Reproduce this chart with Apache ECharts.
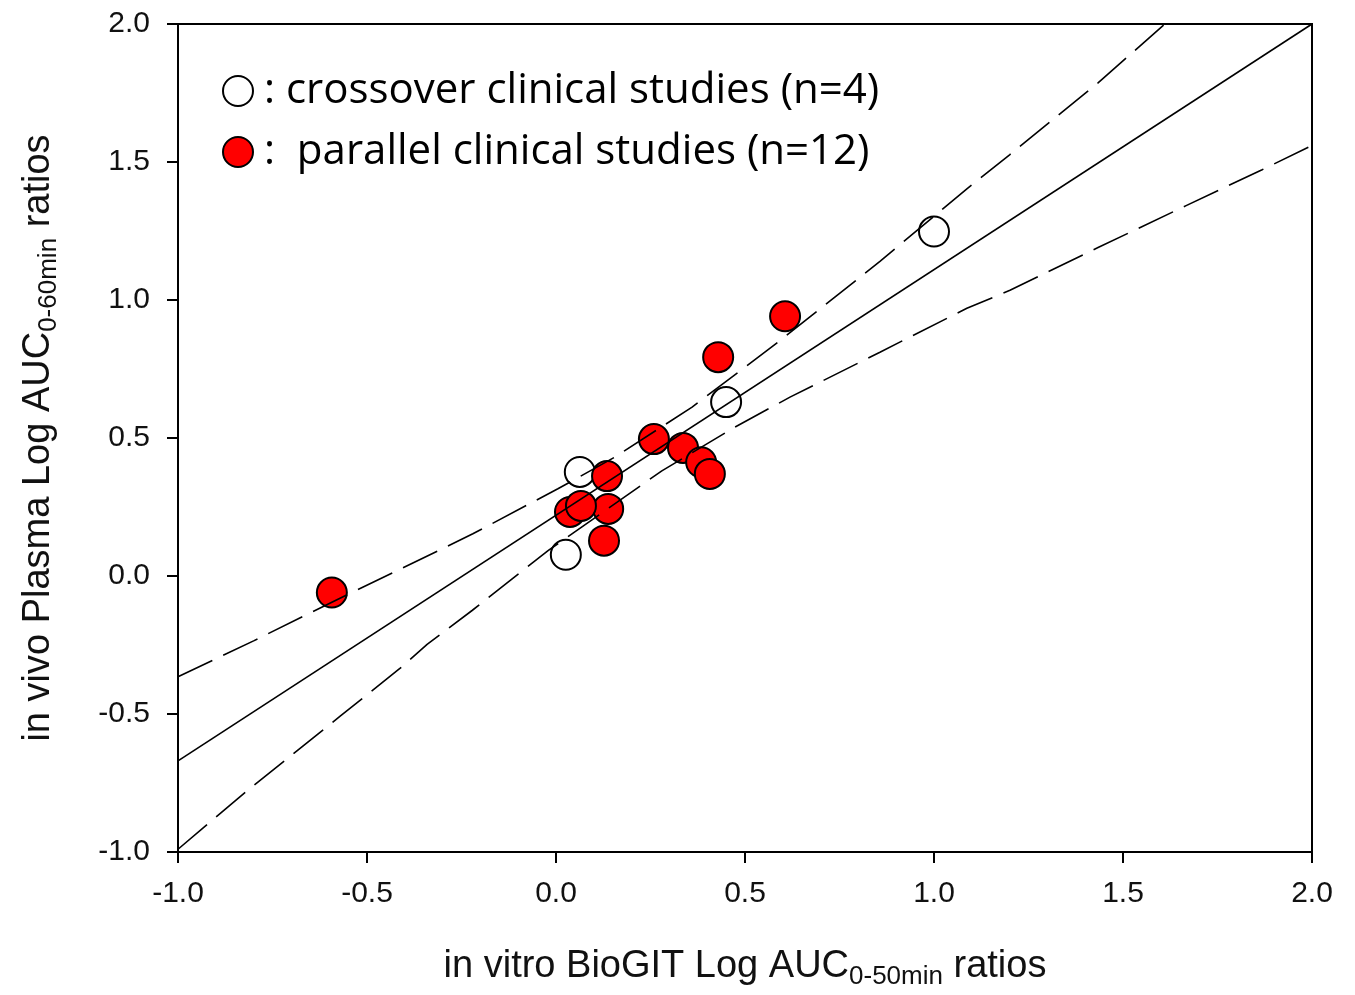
<!DOCTYPE html>
<html>
<head>
<meta charset="utf-8">
<title>BioGIT vs plasma AUC ratios</title>
<script src="https://cdn.jsdelivr.net/npm/echarts@6/dist/echarts.min.js"></script>
<style>
  html, body { margin: 0; padding: 0; background: #fff; }
  #chart { width: 1355px; height: 995px; }
</style>
</head>
<body>
<div id="chart"></div>
<script>
// values
const crossoverX = [1.0, 0.45, 0.063, 0.026];
const crossoverY = [1.248, 0.63, 0.377, 0.077];

const parallelX = [-0.593, 0.606, 0.429, 0.259, 0.336, 0.384, 0.407, 0.135, 0.138, 0.127, 0.037, 0.066];
const parallelY = [-0.06, 0.941, 0.793, 0.496, 0.464, 0.412, 0.37, 0.362, 0.243, 0.128, 0.232, 0.254];

// regression line
const fitX = [-1.0, 2.0];
const fitY = [-0.67, 2.0];

// upper / lower dashed band
const upperX = [-1.0, -0.8, -0.593, -0.41, -0.22, 0.005, 0.156, 0.36, 0.587, 0.857, 1.087, 1.2, 1.434, 1.611];
const upperY = [-0.365, -0.235, -0.095, 0.026, 0.153, 0.316, 0.431, 0.612, 0.847, 1.14, 1.403, 1.526, 1.787, 2.0];
const lowerX = [-1.0, -0.81, -0.571, -0.413, -0.341, -0.222, -0.021, 0.28, 0.474, 0.619, 0.857, 1.087, 1.201, 1.434, 1.667, 1.868, 2.0];
const lowerY = [-0.99, -0.77, -0.508, -0.335, -0.248, -0.125, 0.092, 0.381, 0.54, 0.648, 0.811, 0.97, 1.035, 1.19, 1.342, 1.472, 1.56];

const xTicks = [-1.0, -0.5, 0.0, 0.5, 1.0, 1.5, 2.0];
const yTicks = [-1.0, -0.5, 0.0, 0.5, 1.0, 1.5, 2.0];

const legendNames = ['crossover', 'parallel'];
const legendLabels = {
  crossover: ': crossover clinical studies (n=4)',
  parallel: ':  parallel clinical studies (n=12)'
};

function zip(xs, ys) {
  return xs.map((x, i) => [x, ys[i]]);
}

const axisFont = '"Liberation Sans", Arial, sans-serif';

const chart = echarts.init(document.getElementById('chart'));

let option = {
  backgroundColor: '#fff',
  animation: false,
  grid: {
    left: 178,
    right: 43,
    top: 24,
    bottom: 141,
    show: true,
    borderColor: '#000',
    borderWidth: 2,
    containLabel: false
  },
  legend: {
    data: legendNames,
    orient: 'vertical',
    left: 217,
    top: 61,
    itemWidth: 30,
    itemHeight: 30,
    itemGap: 11,
    formatter: name => legendLabels[name],
    textStyle: {
      fontFamily: '"Open Sans", "Noto Sans", sans-serif',
      fontSize: 42,
      lineHeight: 50,
      color: '#000',
      padding: [0, 0, 0, 6]
    }
  },
  xAxis: {
    type: 'value',
    min: -1.0,
    max: 2.0,
    interval: 0.5,
    splitLine: { show: false },
    axisLine: { show: true, onZero: false, lineStyle: { color: '#000', width: 2 } },
    axisTick: { show: true, length: 11, lineStyle: { color: '#000', width: 2 } },
    axisLabel: {
      margin: 27,
      fontSize: 30,
      fontFamily: axisFont,
      color: '#111',
      formatter: v => xTicks.includes(v) ? v.toFixed(1) : ''
    },
    name: '{m|in vitro BioGIT Log AUC}{s|0-50min}{m| ratios}',
    nameLocation: 'middle',
    nameGap: 92,
    nameTextStyle: {
      rich: {
        m: { fontSize: 38, fontFamily: axisFont, color: '#111', lineHeight: 46 },
        s: { fontSize: 26, fontFamily: axisFont, color: '#111', lineHeight: 18, verticalAlign: 'bottom' }
      }
    }
  },
  yAxis: {
    type: 'value',
    min: -1.0,
    max: 2.0,
    interval: 0.5,
    splitLine: { show: false },
    axisLine: { show: true, onZero: false, lineStyle: { color: '#000', width: 2 } },
    axisTick: { show: true, length: 11, lineStyle: { color: '#000', width: 2 } },
    axisLabel: {
      margin: 28,
      fontSize: 30,
      fontFamily: axisFont,
      color: '#111',
      formatter: v => yTicks.includes(v) ? v.toFixed(1) : ''
    },
    name: '{m|in vivo Plasma Log AUC}{s|0-60min}{m| ratios}',
    nameLocation: 'middle',
    nameRotate: 90,
    nameGap: 116,
    nameTextStyle: {
      rich: {
        m: { fontSize: 38, fontFamily: axisFont, color: '#111', lineHeight: 46 },
        s: { fontSize: 26, fontFamily: axisFont, color: '#111', lineHeight: 18, verticalAlign: 'bottom' }
      }
    }
  },
  series: [
    {
      name: 'fit',
      type: 'line',
      data: zip(fitX, fitY),
      symbol: 'none',
      silent: true,
      lineStyle: { color: '#000', width: 1.6 }
    },
    {
      name: 'upper',
      type: 'line',
      data: zip(upperX, upperY),
      symbol: 'none',
      silent: true,
      lineStyle: { color: '#000', width: 1.6, type: [38, 12] }
    },
    {
      name: 'lower',
      type: 'line',
      data: zip(lowerX, lowerY),
      symbol: 'none',
      silent: true,
      lineStyle: { color: '#000', width: 1.6, type: [38, 12] }
    },
    {
      name: 'crossover',
      type: 'scatter',
      data: zip(crossoverX, crossoverY),
      symbol: 'circle',
      symbolSize: 30,
      itemStyle: { color: '#fff', borderColor: '#000', borderWidth: 2, opacity: 1 }
    },
    {
      name: 'parallel',
      type: 'scatter',
      data: zip(parallelX, parallelY),
      symbol: 'circle',
      symbolSize: 30,
      itemStyle: { color: '#ff0000', borderColor: '#000', borderWidth: 2, opacity: 1 }
    }
  ]
};

chart.setOption(option);
</script>
</body>
</html>
